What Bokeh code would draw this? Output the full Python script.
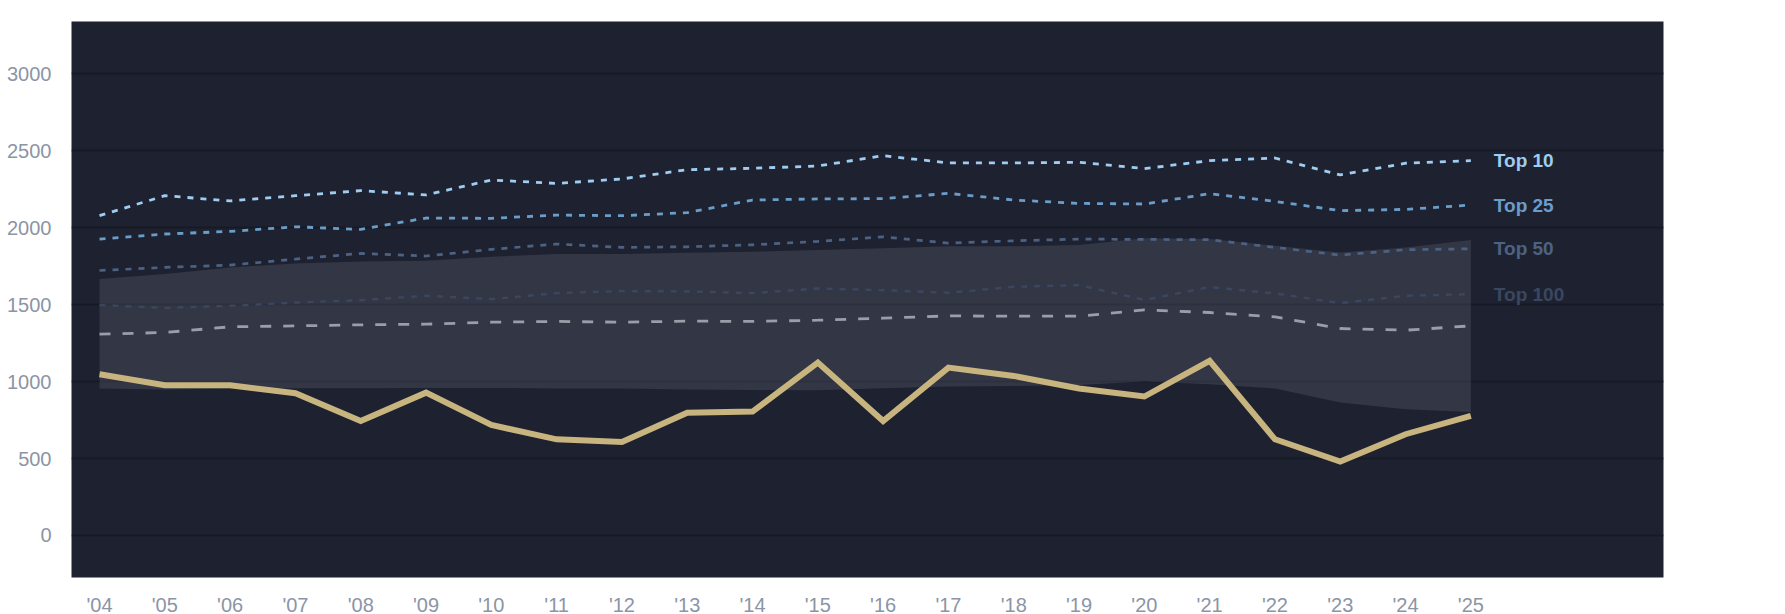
from bokeh.plotting import figure
from bokeh.models import ColumnDataSource, FixedTicker, Range1d
from bokeh.core.properties import value
from bokeh.embed import file_html
from bokeh.resources import INLINE

years = list(range(2004, 2026))
tick_labels = ["'04", "'05", "'06", "'07", "'08", "'09", "'10", "'11", "'12", "'13", "'14",
               "'15", "'16", "'17", "'18", "'19", "'20", "'21", "'22", "'23", "'24", "'25"]
y_ticks = [0, 500, 1000, 1500, 2000, 2500, 3000]

top10 = [2078, 2208, 2174, 2208, 2241, 2213, 2310, 2288, 2317, 2377, 2386, 2401, 2468, 2421, 2421, 2425, 2384, 2436, 2453, 2343, 2419, 2436]
top25 = [1926, 1959, 1976, 2006, 1989, 2063, 2061, 2082, 2078, 2098, 2180, 2187, 2189, 2223, 2180, 2158, 2154, 2221, 2171, 2111, 2119, 2147]
top50 = [1722, 1742, 1757, 1796, 1833, 1816, 1859, 1894, 1872, 1876, 1889, 1911, 1941, 1900, 1915, 1926, 1924, 1922, 1872, 1822, 1857, 1863]
top100 = [1497, 1479, 1492, 1514, 1529, 1558, 1536, 1575, 1588, 1586, 1575, 1605, 1594, 1577, 1616, 1627, 1531, 1614, 1573, 1510, 1558, 1568]
median = [1308, 1319, 1356, 1362, 1369, 1373, 1386, 1391, 1386, 1393, 1391, 1399, 1412, 1427, 1425, 1425, 1466, 1449, 1421, 1345, 1334, 1362]
band_high = [1666, 1699, 1742, 1768, 1781, 1785, 1811, 1829, 1829, 1837, 1844, 1855, 1866, 1879, 1879, 1887, 1931, 1926, 1883, 1839, 1872, 1920]
band_low = [955, 948, 955, 957, 957, 959, 959, 955, 955, 948, 946, 944, 957, 968, 972, 978, 1000, 983, 955, 864, 820, 803]
player = [1048, 976, 976, 924, 744, 928, 718, 625, 607, 798, 805, 1124, 744, 1091, 1037, 955, 903, 1135, 625, 480, 658, 777]

tier_names = ["Top 10", "Top 25", "Top 50", "Top 100"]
tier_colors = ["#9fcdf2", "#6b9dca", "#4d6282", "#3b4760"]
tier_widths = [2.8, 2.8, 2.7, 2.4]

src = ColumnDataSource(dict(x=years, top10=top10, top25=top25, top50=top50, top100=top100,
                            median=median, hi=band_high, lo=band_low, player=player))

p = figure(frame_width=1592, frame_height=556, output_backend="svg", toolbar_location=None,
           x_range=Range1d(2003.571, 2027.95), y_range=Range1d(-273, 3340),
           min_border_left=71, min_border_right=114, min_border_top=21, min_border_bottom=30)
p.background_fill_color = "#1e2230"
p.border_fill_color = "#ffffff"
p.outline_line_color = None

p.xgrid.grid_line_color = None
p.ygrid.grid_line_color = "#161a24"
p.ygrid.grid_line_width = 2
p.ygrid.ticker = FixedTicker(ticks=y_ticks)

for ax in (p.xaxis, p.yaxis):
    ax.axis_line_color = None
    ax.major_tick_line_color = None
    ax.minor_tick_line_color = None
    ax.major_label_text_color = "#8b95a5"
    ax.major_label_text_font = "Liberation Sans"
p.yaxis.ticker = FixedTicker(ticks=y_ticks)
p.yaxis.major_label_text_font_size = "20px"
p.yaxis.major_label_standoff = 14
p.xaxis.ticker = FixedTicker(ticks=years)
p.xaxis.major_label_overrides = {y: t for y, t in zip(years, tick_labels)}
p.xaxis.major_label_text_font_size = "20px"
p.xaxis.major_label_standoff = 10

p.varea(x="x", y1="lo", y2="hi", source=src, fill_color="#5a5f6e", fill_alpha=0.34)

for col, name, color, w in reversed(list(zip(["top10", "top25", "top50", "top100"], tier_names, tier_colors, tier_widths))):
    p.line(x="x", y=col, source=src, line_color=color, line_width=w, line_dash="6 7")

p.line(x="x", y="median", source=src, line_color="#9a9ea8", line_width=2.8, line_dash="11 12")
p.line(x="x", y="player", source=src, line_color="#c8b47e", line_width=6, line_join="miter")

last_vals = [top10[-1], top25[-1], top50[-1], top100[-1]]
lab = ColumnDataSource(dict(x=[years[-1]] * 4, y=last_vals, t=tier_names, c=tier_colors))
p.text(x="x", y="y", text="t", source=lab, text_color="c", x_offset=23,
       text_align="left", text_baseline="middle", text_font=value("Liberation Sans"),
       text_font_style="bold", text_font_size="19px")

open("out.html", "w").write(file_html(p, INLINE))
